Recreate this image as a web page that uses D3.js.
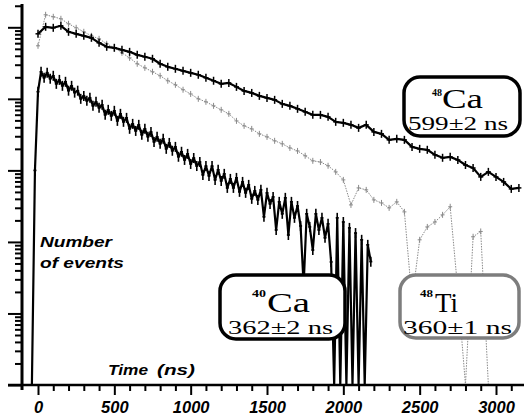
<!DOCTYPE html>
<html><head><meta charset="utf-8">
<script src="https://cdn.jsdelivr.net/npm/d3@7"></script>
<style>html,body{margin:0;padding:0;background:#fff;} svg{display:block;}</style>
</head><body><svg id="c" width="524" height="419"></svg>
<script>
// ---------------- data ----------------
const xTickValues = [0, 500, 1000, 1500, 2000, 2500, 3000];
const xTickLabels = ["0", "500", "1000", "1500", "2000", "2500", "3000"];
const xMinorTicks = d3.range(100, 3200, 100).filter(v => v % 500 !== 0);
const yMajorTicks = [1, 10, 100, 1000, 10000, 100000];

// 48Ca : 50 ns bins starting at 0 ns
const ca48Times = d3.range(0, 3200, 50);
const ca48Counts = [81100, 101600, 98400, 105000, 86500, 81100, 76000, 71300, 60700, 53400,
  51700, 48400, 45400, 41200, 38700, 36300, 30900, 28000, 26300, 24600,
  23100, 21700, 19700, 17900, 16200, 16700, 14700, 12900, 12100, 11000,
  10300, 9680, 8510, 7980, 7250, 6580, 5970, 5970, 5600, 4770,
  4620, 4330, 3930, 4330, 3450, 3240, 2670, 2760, 2670, 2130,
  2000, 1940, 1650, 1500, 1545, 1400, 1190, 1080, 811, 953,
  811, 690, 551, 569];

// 48Ti : 50 ns bins starting at 0 ns
const ti48Times = d3.range(0, 3000, 50);
const ti48Counts = [55100, 149600, 140300, 131500, 112000, 98400, 86500, 76000, 69000, 58800,
  51700, 44000, 37400, 30900, 27100, 23900, 21000, 17900, 15700, 13400,
  11700, 10000, 9080, 7980, 7020, 6170, 4920, 4190, 3800, 3240,
  2940, 2590, 2350, 2060, 1870, 1600, 1360, 1310, 1160, 953,
  736, 329, 569, 534, 387, 351, 299, 363, 263, 15.4,
  107, 162, 190, 239, 310, 21, 0, 118, 140, 0];

// 40Ca : 20 ns bins starting at -40 ns
const ca40Times = d3.range(-40, 2200, 20);
const ca40Counts = [0, 1000, 12600, 23900, 19700, 23200, 19100, 21000, 16200, 18400,
  15200, 17300, 13000, 15200, 12200, 13000, 10000, 11000, 9370, 10350,
  7980, 9080, 7480, 8240, 5970, 7020, 5780, 6800, 4920, 6170,
  4770, 5420, 3810, 4470, 3560, 4330, 3140, 3810, 2950, 3450,
  2500, 2950, 2350, 2760, 2000, 2420, 1880, 2130, 1550, 1820,
  1400, 1700, 1230, 1490, 1150, 1310, 865, 1150, 837, 1150,
  736, 1020, 712, 894, 569, 760, 569, 785, 501, 690,
  485, 627, 400, 517, 387, 534, 224, 485, 340, 426,
  147, 363, 247, 413, 125, 363, 217, 318, 167, 25,
  247, 162, 77, 247, 147, 217, 114, 179, 52.5, 0,
  217, 0, 190, 0, 157, 0, 133, 0, 107, 0,
  91, 53];

const boxIsotopes = ["48", "40", "48"];
const boxElements = ["Ca", "Ca", "Ti"];
const boxLifetimes = ["599\u00b12 ns", "362\u00b12 ns", "360\u00b11 ns"];

// ---------------- layout ----------------
const svg = d3.select("#c");
const x = d3.scaleLinear().domain([0, 3000]).range([38, 496]);
const y = d3.scaleLog().domain([1, 2.05e5]).range([385, 5]);
const yv = v => v > 0 ? y(v) : y(1);

const sans = "'Liberation Sans', Arial, sans-serif";
const serif = "'Liberation Serif', 'Times New Roman', serif";

// curves
function drawSeries(times, counts, opt) {
  const pts = times.map((t, i) => [x(t), yv(counts[i])]);
  svg.append("path")
    .attr("d", d3.line()(pts))
    .attr("fill", "none")
    .attr("stroke", opt.color)
    .attr("stroke-width", opt.width)
    .attr("stroke-dasharray", opt.dash || null)
    .attr("stroke-linejoin", "round");
  const g = svg.append("g").attr("stroke", opt.color).attr("stroke-width", opt.mw);
  pts.forEach(p => {
    if (p[1] >= 384) return;
    g.append("line").attr("x1", p[0]).attr("x2", p[0]).attr("y1", p[1] - opt.ev).attr("y2", p[1] + opt.ev);
    g.append("line").attr("x1", p[0] - opt.eh).attr("x2", p[0] + opt.eh).attr("y1", p[1]).attr("y2", p[1]);
  });
}
drawSeries(ca40Times, ca40Counts, {color: "#000", width: 2.2, mw: 1.6, ev: 5, eh: 1.5});
drawSeries(ti48Times, ti48Counts, {color: "#8a8a8a", width: 1, dash: "1.5,1.2", mw: 1, ev: 3, eh: 2});
drawSeries(ca48Times, ca48Counts, {color: "#000", width: 2.2, mw: 1.5, ev: 4, eh: 2.5});

// axes
const axisG = svg.append("g");
const xMaj = axisG.append("g").attr("transform", "translate(0,385)")
  .call(d3.axisBottom(x).tickValues(xTickValues).tickFormat((d, i) => xTickLabels[i]).tickSize(10).tickPadding(6.5));
const xMin = axisG.append("g").attr("transform", "translate(0,385)")
  .call(d3.axisBottom(x).tickValues(xMinorTicks).tickFormat("").tickSize(6));
const yMaj = axisG.append("g").attr("transform", "translate(22,0)")
  .call(d3.axisLeft(y).tickValues(yMajorTicks).tickFormat("").tickSize(14));
const yMinorTicks = [];
[1, 10, 100, 1000, 10000, 100000].forEach(dec => [2,3,4,5,6,7,8,9].forEach(m => { if (dec * m <= 2.05e5) yMinorTicks.push(dec * m); }));
const yMin = axisG.append("g").attr("transform", "translate(22,0)")
  .call(d3.axisLeft(y).tickValues(yMinorTicks).tickFormat("").tickSize(7));
axisG.selectAll(".domain").remove();
axisG.selectAll(".tick line").attr("stroke", "#000").attr("stroke-width", 2);
xMaj.selectAll("text")
  .attr("font-family", sans).attr("font-weight", "bold").attr("font-style", "italic")
  .attr("font-size", 16.5).attr("fill", "#000");
// axis lines
axisG.append("line").attr("x1", 8).attr("x2", 524).attr("y1", 385).attr("y2", 385)
  .attr("stroke", "#000").attr("stroke-width", 2.6);
axisG.append("line").attr("x1", 22).attr("x2", 22).attr("y1", 4).attr("y2", 390)
  .attr("stroke", "#000").attr("stroke-width", 3);

// axis titles
const titleStyle = s => s.attr("font-family", sans).attr("font-weight", "bold").attr("font-style", "italic").attr("fill", "#000");
svg.append("text").text("Number").attr("x", 40).attr("y", 247).attr("font-size", 15)
  .attr("textLength", 72).attr("lengthAdjust", "spacingAndGlyphs").call(titleStyle);
svg.append("text").text("of events").attr("x", 40).attr("y", 268).attr("font-size", 15)
  .attr("textLength", 84).attr("lengthAdjust", "spacingAndGlyphs").call(titleStyle);
svg.append("text").text("Time").attr("x", 108).attr("y", 375).attr("font-size", 14.5)
  .attr("textLength", 40).attr("lengthAdjust", "spacingAndGlyphs").call(titleStyle);
svg.append("text").text("(ns)").attr("x", 157).attr("y", 375).attr("font-size", 14.5)
  .attr("textLength", 38).attr("lengthAdjust", "spacingAndGlyphs").call(titleStyle);

// label boxes
const boxes = [
  {r: [404, 77, 116, 59], stroke: "#000", iso: [432, 96, 10], el: [442, 108, 41], life: [408, 130, 100]},
  {r: [220, 275, 125, 64], stroke: "#000", iso: [252, 297, 14], el: [267, 312, 43], life: [228, 334, 105]},
  {r: [400, 275, 119, 63], stroke: "#7d7d7d", iso: [420, 297, 13], el: [435, 312, 23], life: [403, 334, 109]}
];
boxes.forEach((b, i) => {
  svg.append("rect").attr("x", b.r[0]).attr("y", b.r[1]).attr("width", b.r[2]).attr("height", b.r[3])
    .attr("rx", 16).attr("fill", "#fff").attr("stroke", b.stroke).attr("stroke-width", 3.5);
  svg.append("text").text(boxIsotopes[i]).attr("x", b.iso[0]).attr("y", b.iso[1])
    .attr("font-family", serif).attr("font-weight", "bold").attr("font-size", 11)
    .attr("textLength", b.iso[2]).attr("lengthAdjust", "spacingAndGlyphs").attr("fill", "#000");
  svg.append("text").text(boxElements[i]).attr("x", b.el[0]).attr("y", b.el[1])
    .attr("font-family", serif).attr("font-size", 28)
    .attr("textLength", b.el[2]).attr("lengthAdjust", "spacingAndGlyphs").attr("fill", "#000");
  svg.append("text").text(boxLifetimes[i]).attr("x", b.life[0]).attr("y", b.life[1])
    .attr("font-family", serif).attr("font-size", 18)
    .attr("textLength", b.life[2]).attr("lengthAdjust", "spacingAndGlyphs").attr("fill", "#000");
});
</script>
</body></html>
